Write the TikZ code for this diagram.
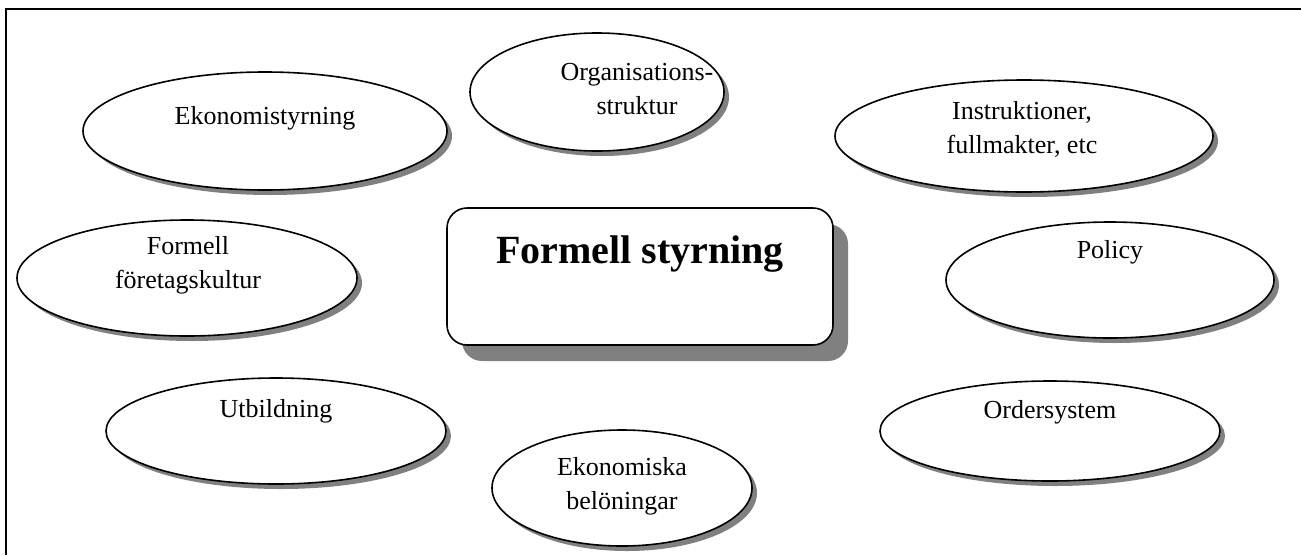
\documentclass[tikz,border=0pt]{standalone}
\usepackage{fontspec}
\setmainfont{Liberation Serif}
\usetikzlibrary{shadows,shapes.geometric}
\begin{document}
\begin{tikzpicture}[x=1pt,y=-1pt,
  oval/.style={ellipse, draw=black, line width=1.6pt, fill=white,
    inner sep=0pt,
    drop shadow={shadow xshift=5pt, shadow yshift=-5pt, fill=black!50, opacity=1}},
  corebox/.style={rectangle, rounded corners=20pt, draw=black, line width=1.6pt,
    fill=white, inner sep=0pt,
    drop shadow={shadow xshift=15pt, shadow yshift=-16pt, fill=black!50, opacity=1}},
  lbl/.style={anchor=base, align=center, inner sep=0pt,
    font=\fontsize{26}{34}\selectfont},
  corelbl/.style={anchor=base, inner sep=0pt,
    font=\fontsize{40}{48}\selectfont\bfseries}]
\useasboundingbox (0,0) rectangle (1301,555);
\fill[white] (0,0) rectangle (1301,555);
% outer frame
\draw[line width=2pt] (6,555) |- (1301,9);

% central box
\node[corebox, minimum width=386pt, minimum height=137pt] (core) at (640,276.5) {};
\node[corelbl] (coreText) at (640,263) {Formell styrning};

% surrounding ovals (two-line labels are placed by their last baseline)
\node[oval, minimum width=364pt, minimum height=118pt] (eko) at (265,131) {};
\node[lbl] (ekoText) at (265,124) {Ekonomistyrning};

\node[oval, minimum width=254pt, minimum height=118pt] (org) at (597,92) {};
\node[lbl] (orgText) at (637,114) {Organisations-\\struktur};

\node[oval, minimum width=378pt, minimum height=112pt] (ins) at (1024,136) {};
\node[lbl] (insText) at (1022,153) {Instruktioner,\\fullmakter, etc};

\node[oval, minimum width=340pt, minimum height=116pt] (kul) at (187,278) {};
\node[lbl] (kulText) at (188,288) {Formell\\företagskultur};

\node[oval, minimum width=328pt, minimum height=116pt] (pol) at (1110,280) {};
\node[lbl] (polText) at (1110,258) {Policy};

\node[oval, minimum width=340pt, minimum height=106pt] (utb) at (276,431) {};
\node[lbl] (utbText) at (276,417) {Utbildning};

\node[oval, minimum width=340pt, minimum height=100pt] (ord) at (1050,431) {};
\node[lbl] (ordText) at (1050,418) {Ordersystem};

\node[oval, minimum width=260pt, minimum height=116pt] (bel) at (622,488) {};
\node[lbl] (belText) at (622,509) {Ekonomiska\\belöningar};
\end{tikzpicture}
\end{document}
